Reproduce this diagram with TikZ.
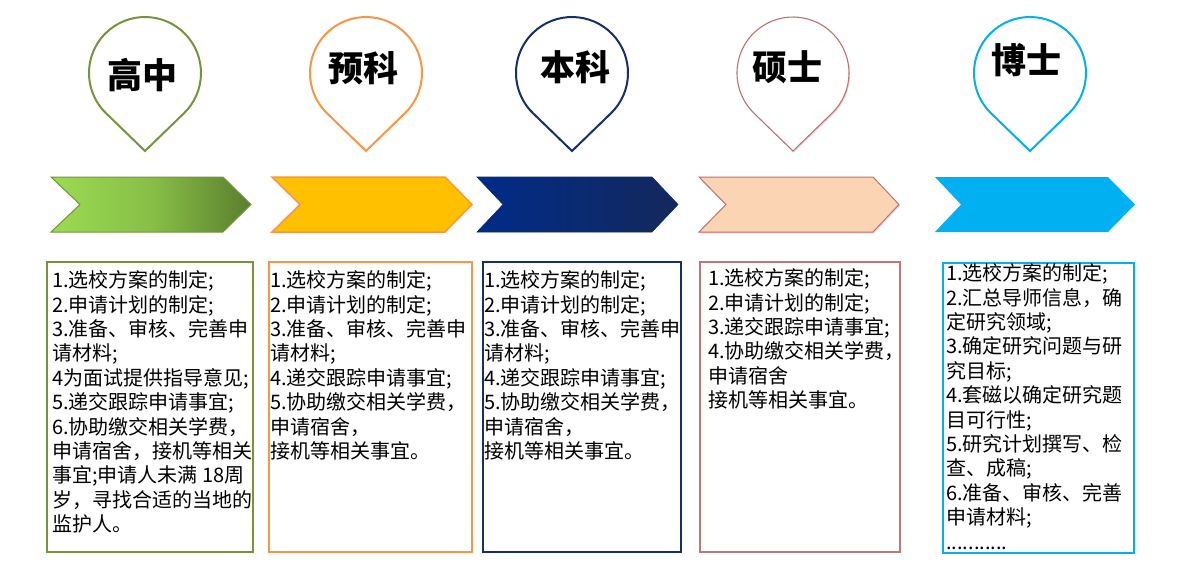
\documentclass[tikz,border=0pt]{standalone}
\usepackage{fontspec}
\setmainfont{Noto Sans CJK SC}
\usetikzlibrary{shadows}
\definecolor{cOlive}{HTML}{77933C}
\definecolor{cGreenL}{HTML}{9BDB52}
\definecolor{cGreenD}{HTML}{5A7E2E}
\definecolor{cOrange}{HTML}{F79646}
\definecolor{cAmber}{HTML}{FFC000}
\definecolor{cNavy}{HTML}{142F6C}
\definecolor{cNavyL}{HTML}{002C88}
\definecolor{cNavyD}{HTML}{14285A}
\definecolor{cRose}{HTML}{C0706E}
\definecolor{cRoseBox}{HTML}{C07677}
\definecolor{cPeach}{HTML}{FBD4B4}
\definecolor{cCyan}{HTML}{00B0F0}
\newcommand\droppin[3]{%
  \draw[pinline, draw=#2, line width=#3] (#1,151) -- ({#1+38.9},113.3)
    arc[start angle=46, end angle=-226, radius=56] -- cycle;}
\newcommand\chevron[5]{%
  \path[#5] (#1,177) -- (#3,177) -- (#4,204.5) -- (#3,232) -- (#1,232) -- (#2,204.5) -- cycle;}
\newcommand\topstrut{\rule{0pt}{17pt}}
\tikzset{
  pinline/.style={fill=white},
  infobox/.style={line width=2.2pt, anchor=north west, inner sep=0pt},
  txt/.style={anchor=north west, align=left, inner sep=0pt,
    font=\fontsize{20}{24.4}\selectfont, text=black},
  ttl/.style={font=\fontsize{35}{40}\selectfont\bfseries, inner sep=0pt, text=black},
  softshadow/.style={drop shadow={shadow xshift=1pt, shadow yshift=-1.5pt, opacity=0.25}},
}
\begin{document}
\begin{tikzpicture}[x=1pt, y=-1pt]
\useasboundingbox[fill=white] (0,0) rectangle (1200,570);

% pins
\droppin{145}{cOlive}{2pt}
\droppin{366}{cOrange}{2pt}
\droppin{572}{cNavy}{2pt}
\draw[fill=white, draw=cRose, line width=1.1pt, softshadow] (793,151) -- ({793+38.9},113.3)
    arc[start angle=46, end angle=-226, radius=56] -- cycle;
\droppin{1030}{cCyan}{2pt}

\node[ttl] (h1) at (142,75) {高中};
\node[ttl] (h2) at (363,68) {预科};
\node[ttl] (h3) at (575,67) {本科};
\node[ttl] (h4) at (787,67) {硕士};
\node[ttl] (h5) at (1026,60) {博士};

% chevrons
\chevron{51}{80}{223}{251}{draw=cOlive, line width=1pt, left color=cGreenL, right color=cGreenD, middle color=cGreenL!70!cGreenD}
\chevron{272}{300}{445}{472}{draw=cOrange, line width=1.5pt, fill=cAmber}
\chevron{477}{503}{652}{678}{draw=cNavyL!60!cNavyD, line width=0.6pt, left color=cNavyL, right color=cNavyD}
\chevron{699}{726}{873}{899}{draw=cRose, line width=1pt, fill=cPeach, softshadow}
\chevron{935}{961}{1108}{1135}{fill=cCyan}

% boxes
\node[infobox, draw=cOlive, minimum width=206pt, minimum height=290pt] (b1) at (46,261) {};
\node[infobox, draw=cOrange, minimum width=203pt, minimum height=290pt] (b2) at (268,261) {};
\node[infobox, draw=cNavy, minimum width=198pt, minimum height=290pt] (b3) at (482,261) {};
\node[infobox, draw=cRoseBox, fill=white, line width=1.6pt, minimum width=200pt, minimum height=290pt, softshadow] (b4) at (699,261) {};
\node[infobox, draw=cCyan, minimum width=191pt, minimum height=290pt] (b5) at (942,262) {};

% texts
\node[txt] (t1) at (52,270.5) {\topstrut 1.选校方案的制定;\\2.申请计划的制定;\\3.准备、审核、完善申\\请材料;\\4为面试提供指导意见;\\5.递交跟踪申请事宜;\\6.协助缴交相关学费，\\申请宿舍，接机等相关\\事宜;申请人未满 18周\\岁，寻找合适的当地的\\监护人。};
\node[txt] (t2) at (270,270.5) {\topstrut 1.选校方案的制定;\\2.申请计划的制定;\\3.准备、审核、完善申\\请材料;\\4.递交跟踪申请事宜;\\5.协助缴交相关学费，\\申请宿舍，\\接机等相关事宜。};
\node[txt] (t3) at (484,270.5) {\topstrut 1.选校方案的制定;\\2.申请计划的制定;\\3.准备、审核、完善申\\请材料;\\4.递交跟踪申请事宜;\\5.协助缴交相关学费，\\申请宿舍，\\接机等相关事宜。};
\node[txt] (t4) at (708,268.5) {\topstrut 1.选校方案的制定;\\2.申请计划的制定;\\3.递交跟踪申请事宜;\\4.协助缴交相关学费，\\申请宿舍\\接机等相关事宜。};
\node[txt] (t5) at (946,263.5) {\topstrut 1.选校方案的制定;\\2.汇总导师信息，确\\定研究领域;\\3.确定研究问题与研\\究目标;\\4.套磁以确定研究题\\目可行性;\\5.研究计划撰写、检\\查、成稿;\\6.准备、审核、完善\\申请材料;\\...........};
\end{tikzpicture}
\end{document}
